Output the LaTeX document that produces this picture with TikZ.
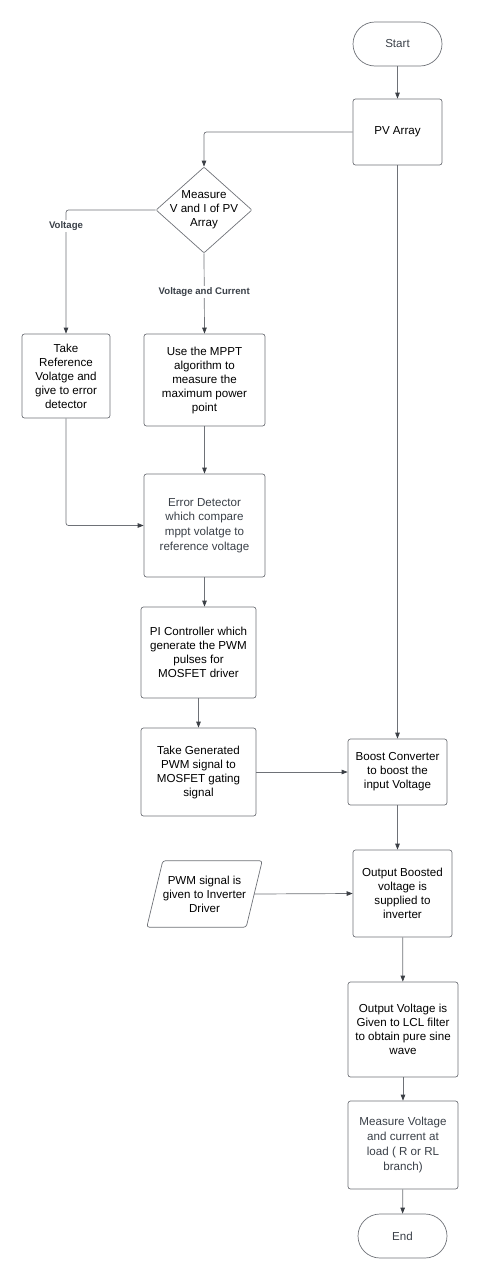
\documentclass[tikz,border=0pt]{standalone}
\usepackage{fontspec}
\setmainfont{Liberation Sans}
\usetikzlibrary{arrows.meta,shapes.geometric}
\definecolor{linegray}{HTML}{6E7177}
\definecolor{tipgray}{HTML}{3B3F45}
\definecolor{textgray}{HTML}{3A4048}
\begin{document}
\begin{tikzpicture}[x=1pt,y=-1pt,
	box/.style={draw=linegray,line width=0.7,rounded corners=2.5,align=center,inner sep=0,font=\fontsize{11.6}{14}\selectfont},
	terminal/.style={box,rounded corners=22},
	decision/.style={box,diamond,rounded corners=1,inner sep=-12pt},
	flow/.style={draw=linegray,line width=0.7,-{Triangle[length=6pt,width=4.5pt,color=tipgray]}},
	lbl/.style={fill=white,inner sep=1.5pt,font=\fontsize{9.6}{10}\selectfont\bfseries,text=textgray}]

	\useasboundingbox (0,0) rectangle (480,1280);

	%------------------------------------------------------
	\node[terminal,minimum width=89,minimum height=44,text=textgray] (start) at (397.5,44) {Start};
	\node[box,minimum width=89,minimum height=66] (pv) at (397.5,132) {PV Array};
	\node[decision,minimum width=96,minimum height=86] (meas) at (204,210) {Measure\\V and I of PV\\Array};
	%------------------------------------------------------


	%------------------------------------------------------
	\node[box,minimum width=88,minimum height=84] (ref) at (66,376) {Take\\Reference\\Volatge and\\give to error\\detector};
	\node[box,minimum width=121,minimum height=92] (mppt) at (204.5,380) {Use the MPPT\\algorithm to\\measure the\\maximum power\\point};
	\node[box,minimum width=121,minimum height=103,text=textgray,font=\fontsize{11.6}{14.7}\selectfont] (err) at (204.5,525.5) {Error Detector\\which compare\\mppt volatge to\\reference voltage};
	\node[box,minimum width=115,minimum height=91] (pi) at (198.5,652.5) {PI Controller which\\generate the PWM\\pulses for\\MOSFET driver};
	\node[box,minimum width=115,minimum height=88] (gen) at (198.5,772) {Take Generated\\PWM signal to\\MOSFET gating\\signal};
	\node[align=center,inner sep=0,font=\fontsize{11.6}{14}\selectfont,minimum width=99,minimum height=66] (pwm) at (204.5,894) {PWM signal is\\given to Inverter\\Driver};
	%------------------------------------------------------


	%------------------------------------------------------
	\node[box,minimum width=99,minimum height=66] (boost) at (397.5,772) {Boost Converter\\to boost the\\input Voltage};
	\node[box,minimum width=99,minimum height=87] (outb) at (402.5,893.5) {Output Boosted\\voltage is\\supplied to\\inverter};
	\node[box,minimum width=110,minimum height=95] (lcl) at (403,1029.5) {Output Voltage is\\Given to LCL filter\\to obtain pure sine\\wave};
	\node[box,minimum width=110,minimum height=88,text=textgray,font=\fontsize{11.6}{14.7}\selectfont] (load) at (403,1145) {Measure Voltage\\and current at\\load ( R or RL\\branch)};
	\node[terminal,minimum width=89,minimum height=44,text=textgray] (stop) at (402.5,1236) {End};
	%------------------------------------------------------


	%------------------------------------------------------
	\draw[draw=linegray,line width=0.7,rounded corners=2.5]
		([xshift=8]pwm.north west) -- ([xshift=8]pwm.north east) --
		([xshift=-8]pwm.south east) -- ([xshift=-8]pwm.south west) -- cycle;
	%------------------------------------------------------


	%------------------------------------------------------
	\draw[flow] (start) -- (pv);
	\draw[flow,rounded corners=2.5] (pv.west) -| (meas.north);
	\draw[flow,rounded corners=2.5] (meas.west) -| (ref.north);
	\node[lbl] (vlab) at (66,226) {Voltage};
	\draw[flow] (meas.south) -- node[lbl,pos=0.48] (vclab) {Voltage and Current} (mppt.north);
	\draw[flow,rounded corners=2.5] (ref.south) |- (err.west);
	\draw[flow] (mppt) -- (err);
	\draw[flow] (err.south) -- (err.south |- pi.north);
	\draw[flow] (pi) -- (gen);
	\draw[flow] (gen) -- (boost);
	\draw[flow] (pv) -- (boost);
	\draw[flow] (boost.south) -- (boost.south |- outb.north);
	\draw[flow] (pwm.east) -- (outb.west);
	\draw[flow] (outb) -- (lcl);
	\draw[flow] (lcl) -- (load);
	\draw[flow] (load) -- (stop);
	%------------------------------------------------------

\end{tikzpicture}
\end{document}
